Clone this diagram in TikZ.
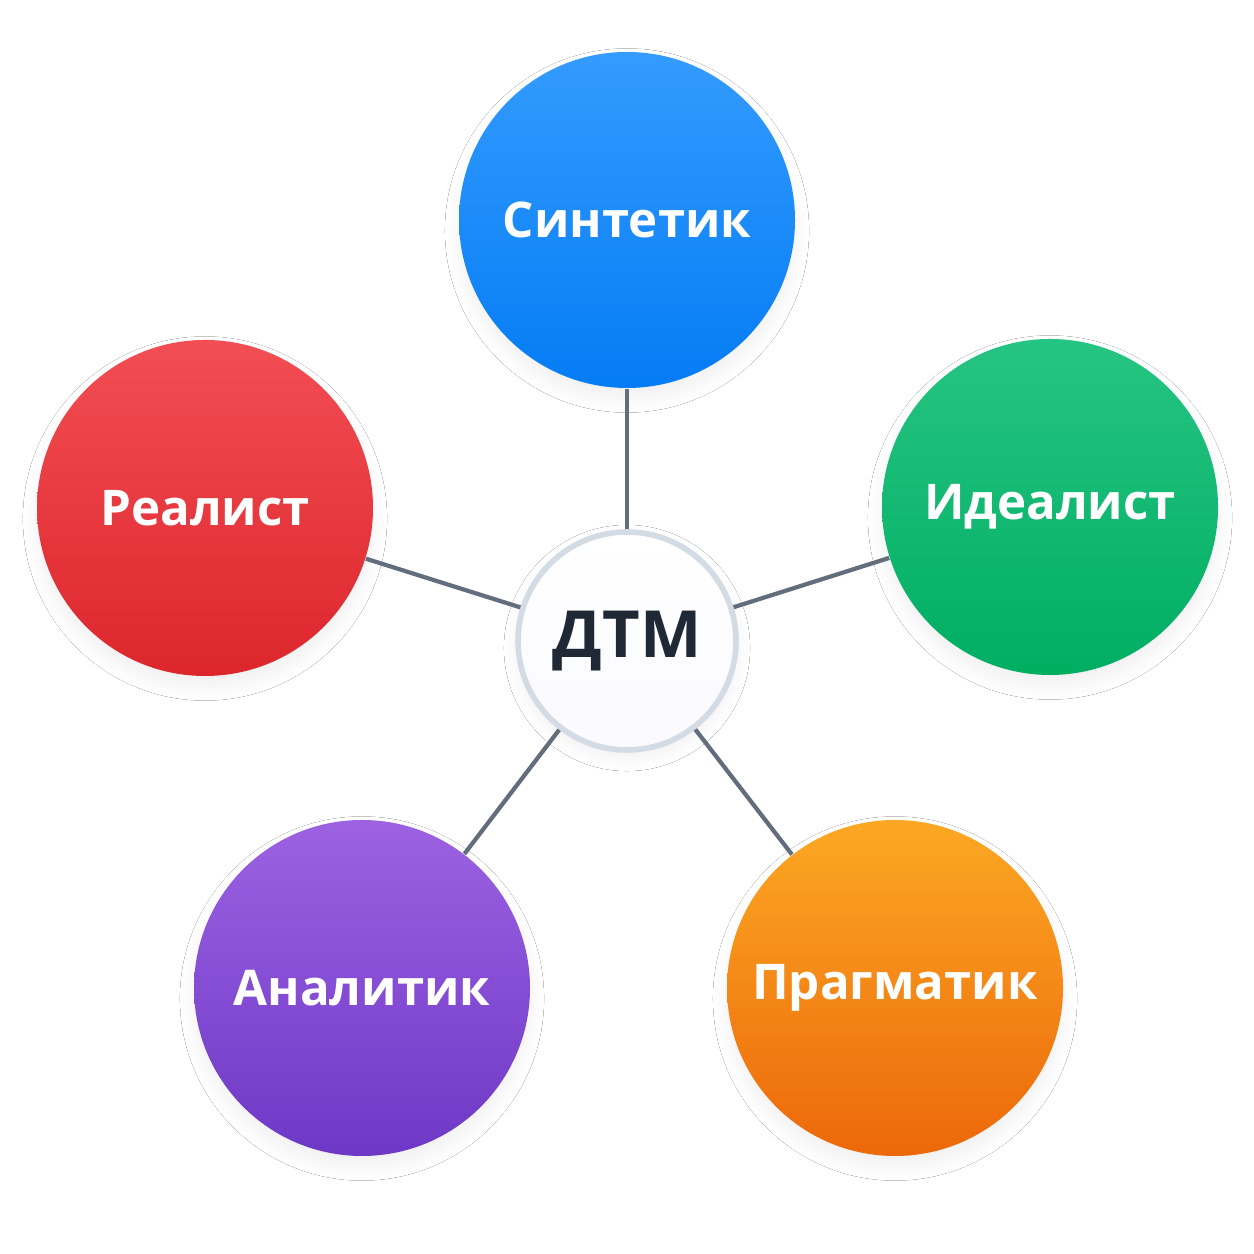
\documentclass[tikz,border=0pt]{standalone}
\usepackage{fontspec}
\setmainfont{Open Sans}
\usetikzlibrary{shadows.blur}

\definecolor{linkgray}{HTML}{626E7B}
\definecolor{hubline}{HTML}{D3DBE4}
\definecolor{hubtext}{HTML}{1F2935}

\begin{document}
\begin{tikzpicture}[
	role/.style={circle, minimum size=3.36cm, inner sep=0pt, text=white,
		font=\fontsize{14}{17}\selectfont\bfseries,
		blur shadow={shadow xshift=0pt, shadow yshift=-3pt, shadow blur radius=4pt, shadow blur steps=10, shadow opacity=6}},
	hub/.style={circle, minimum size=2.18cm, inner sep=0pt, draw=hubline, line width=1.6pt,
		top color=white, bottom color=black!7!blue!2, text=hubtext,
		font=\fontsize{18.5}{22}\selectfont\bfseries,
		blur shadow={shadow xshift=0pt, shadow yshift=-2pt, shadow blur radius=4pt, shadow blur steps=10, shadow opacity=6}},
	link/.style={draw=linkgray, line width=1.2pt}]
	\fill[white] (0,0) rectangle (12.54,12.54);
	\useasboundingbox (0,0) rectangle (12.54,12.54);
	% centre
	\node[hub] (dtm) at (6.27,6.13) {ДТМ};
	% five types round it
	\node[role, top color={rgb,255:red,52;green,155;blue,255}, bottom color={rgb,255:red,4;green,124;blue,244}] (synth) at (6.27,10.34) {Синтетик};
	\node[role, top color={rgb,255:red,242;green,78;blue,84}, bottom color={rgb,255:red,220;green,38;blue,44}] (real) at (2.05,7.46) {Реалист};
	\node[role, top color={rgb,255:red,38;green,196;blue,130}, bottom color={rgb,255:red,0;green,174;blue,98}] (ideal) at (10.50,7.47) {Идеалист};
	\node[role, top color={rgb,255:red,156;green,98;blue,226}, bottom color={rgb,255:red,110;green,56;blue,198}] (anal) at (3.62,2.66) {Аналитик};
	\node[role, top color={rgb,255:red,252;green,168;blue,36}, bottom color={rgb,255:red,236;green,104;blue,10}] (prag) at (8.95,2.66) {Прагматик};
	% links
	\draw[link] (dtm) -- (synth);
	\draw[link] (dtm) -- (real);
	\draw[link] (dtm) -- (ideal);
	\draw[link] (dtm) -- (anal);
	\draw[link] (dtm) -- (prag);
\end{tikzpicture}
\end{document}
